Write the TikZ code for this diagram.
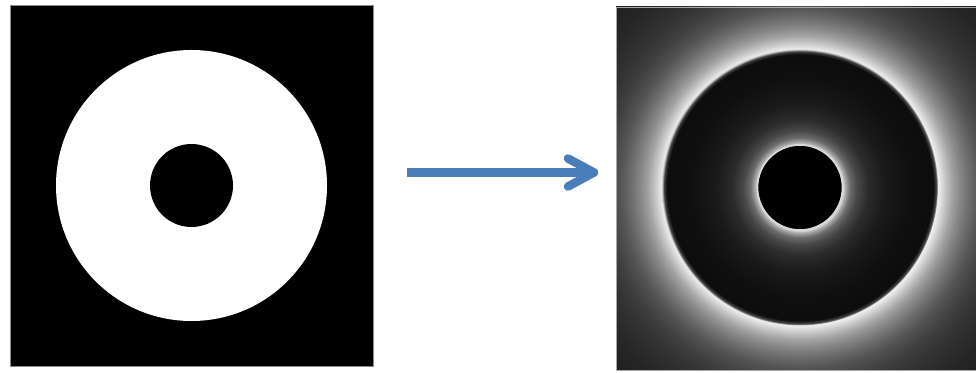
\documentclass[tikz,border=0pt]{standalone}
\usetikzlibrary{calc}
\definecolor{arrowblue}{RGB}{74,126,187}
\pgfdeclareradialshading{outerglow}{\pgfpoint{0bp}{0bp}}{%
color(0bp)=(white!94!black);
color(13.27bp)=(white!94!black);
color(13.94bp)=(white!78!black);
color(14.62bp)=(white!64!black);
color(15.38bp)=(white!53!black);
color(16.35bp)=(white!42!black);
color(17.31bp)=(white!33!black);
color(18.75bp)=(white!25!black);
color(20.19bp)=(white!20!black);
color(22.6bp)=(white!15!black);
color(25bp)=(white!12!black);
color(50bp)=(white!10!black)}
\pgfdeclareradialshading{innerglow}{\pgfpoint{0bp}{0bp}}{%
color(0bp)=(black);
color(7.7bp)=(white!90!black);
color(8.15bp)=(white!68!black);
color(9.06bp)=(white!42!black);
color(10.33bp)=(white!28!black);
color(12.32bp)=(white!17!black);
color(15.4bp)=(white!10!black);
color(19.93bp)=(white!6!black);
color(24.1bp)=(white!5!black);
color(24.64bp)=(white!25!black);
color(25bp)=(white!80!black);
color(50bp)=(white!80!black)}
\tikzset{
  arrowline/.style={draw=arrowblue, line width=8.5pt, line join=round},
  framebox/.style={draw=black!45, line width=0.8pt}
}
\begin{document}
\begin{tikzpicture}[x=1pt,y=1pt]
\useasboundingbox[fill=white] (0,0) rectangle (976,372);
% left image
\coordinate (lc) at (191.5,186.5);
\fill[black] (10,6) rectangle (373,367);
\draw[framebox] (10,6) rectangle (373,367);
\fill[white] (lc) circle (135.5);
\fill[black] (lc) circle (41.5);
% arrow
\coordinate (a) at (407,199.5);
\coordinate (b) at (594,199.5);
\draw[arrowline, line cap=butt] (a) -- (b);
\draw[arrowline, line cap=round] ($(b)+(-26,14)$) -- (b) -- ($(b)+(-26,-14)$);
% right image
\coordinate (rc) at (800,184.5);
\begin{scope}
\clip (616,2) rectangle (976,365);
\shade[shading=outerglow] (rc) circle (260);
\end{scope}
\draw[draw=black!35, line width=0.8pt] (616,2) rectangle (976,365);
\shade[shading=innerglow] (rc) circle (138);
\fill[black] (rc) circle (42.5);
\draw[white!85!black, line width=1.6pt] (rc) circle (42.5);
\end{tikzpicture}
\end{document}
